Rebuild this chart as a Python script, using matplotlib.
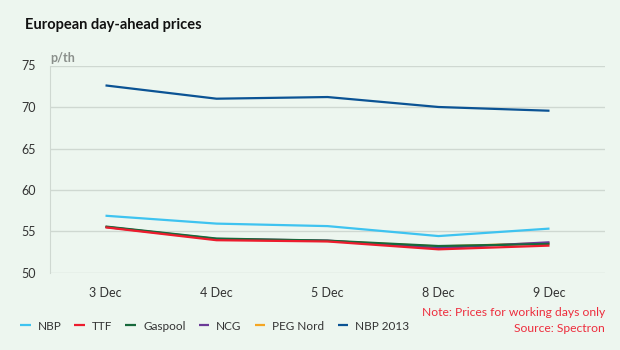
import matplotlib
matplotlib.use("Agg")
import matplotlib.pyplot as plt

plt.rcParams['font.family'] = ['Lato', 'DejaVu Sans']

days = ["3 Dec", "4 Dec", "5 Dec", "8 Dec", "9 Dec"]
nbp = [56.9, 55.95, 55.65, 54.45, 55.35]
ttf = [55.5, 53.95, 53.8, 52.85, 53.3]
gaspool = [55.6, 54.15, 53.9, 53.25, 53.5]
ncg = [55.55, 54.1, 53.9, 53.0, 53.7]
peg_nord = [55.55, 54.05, 53.85, 53.2, 53.6]
nbp_2013 = [72.6, 71.0, 71.2, 70.0, 69.55]

series = [
    ("NBP", nbp, "#3ec3f0"),
    ("TTF", ttf, "#ed1c2e"),
    ("Gaspool", gaspool, "#17693b"),
    ("NCG", ncg, "#6b3a97"),
    ("PEG Nord", peg_nord, "#f5a623"),
    ("NBP 2013", nbp_2013, "#0b5394"),
]

bg = "#edf6ef"
fig = plt.figure(figsize=(6.2, 3.5), dpi=100, facecolor=bg)
ax = fig.add_axes([50/620, 1-273/350, 555/620, 207.5/350], facecolor=bg)

x = list(range(len(days)))
zorders = {"TTF": 6, "Gaspool": 5, "NCG": 4, "PEG Nord": 3, "NBP": 2, "NBP 2013": 2}
handles = []
for name, vals, col in series:
    h, = ax.plot(x, vals, color=col, lw=1.6, label=name, zorder=zorders[name],
                 solid_capstyle='butt')
    handles.append(h)

ax.set_xlim(-0.5, len(days) - 0.5)
ax.set_ylim(50, 75)
ax.set_yticks(range(50, 76, 5))
ax.set_xticks(x)
ax.set_xticklabels(days)
ax.tick_params(axis='both', length=0, labelsize=9, colors="#333333")
ax.tick_params(axis='x', pad=10)
ax.tick_params(axis='y', pad=10)
ax.grid(axis='y', color="#cfd8d1", lw=1)
ax.set_axisbelow(True)
for s in ["top", "right", "bottom"]:
    ax.spines[s].set_visible(False)
ax.spines["left"].set_color("#cfd8d1")

fig.text(25/620, 1-25/350, "European day-ahead prices", fontsize=10.5,
         fontweight='bold', color="#111111", va='center', ha='left')
fig.text(50/620, 1-58/350, "p/th", fontsize=9, fontweight='bold',
         color="#8a8f8b", va='center', ha='left')

fig.legend(handles=handles, loc='center left', bbox_to_anchor=(14/620, 1-326/350),
           ncol=6, frameon=False, fontsize=8.5, handlelength=0.9,
           columnspacing=1.1, handletextpad=0.6, labelcolor="#333333",
           borderpad=0)

fig.text(605/620, 1-312/350, "Note: Prices for working days only", fontsize=8.7,
         color="#ee2d3d", ha='right', va='center')
fig.text(605/620, 1-328/350, "Source: Spectron", fontsize=8.7,
         color="#ee2d3d", ha='right', va='center')

fig.savefig("out.png", dpi=100, facecolor=bg)
